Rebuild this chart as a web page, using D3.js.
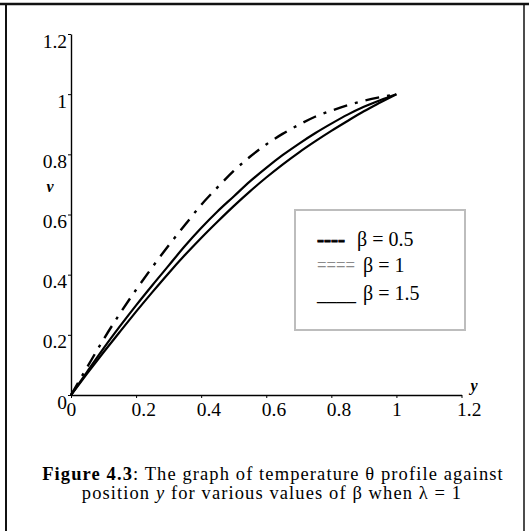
<!DOCTYPE html>
<html><head><meta charset="utf-8">
<script src="https://cdn.jsdelivr.net/npm/d3@7"></script>
<style>
html,body{margin:0;padding:0;background:#fff;}
svg{display:block;font-family:"Liberation Serif","Times New Roman",serif;}
svg text{font-family:"Liberation Serif","Times New Roman",serif !important;fill:#000;}
</style></head>
<body>
<script>
// ---- data ----
const xs = [0,0.05,0.1,0.15,0.2,0.25,0.3,0.35,0.4,0.45,0.5,0.55,0.6,0.65,0.7,0.75,0.8,0.85,0.9,0.95,1];
const beta05 = [0,0.093,0.185,0.27,0.35,0.425,0.497,0.565,0.632,0.69,0.745,0.792,0.833,0.868,0.898,0.925,0.945,0.963,0.978,0.99,1];
const beta1  = [0,0.078,0.155,0.228,0.298,0.365,0.43,0.495,0.555,0.61,0.66,0.71,0.755,0.797,0.835,0.87,0.902,0.932,0.958,0.98,1];
const beta15 = [0,0.072,0.142,0.21,0.277,0.342,0.405,0.465,0.522,0.576,0.628,0.677,0.723,0.766,0.806,0.843,0.878,0.911,0.943,0.972,1];
const xTicks = [0,0.2,0.4,0.6,0.8,1,1.2];
const xTickLabels = ["0","0.2","0.4","0.6","0.8","1","1.2"];
const yTicks = [0,0.2,0.4,0.6,0.8,1,1.2];
const yTickLabels = ["0","0.2","0.4","0.6","0.8","1","1.2"];
const legendMarks = ["----","====","____"];
const legendLabels = ["β = 0.5","β = 1","β = 1.5"];

const W = 529, H = 531;
const FONT = '"Liberation Serif","Times New Roman",serif';
const svg = d3.select("body").append("svg").attr("width", W).attr("height", H);

// frame
svg.append("line").attr("x1",0).attr("x2",W).attr("y1",4).attr("y2",4).attr("stroke","#111").attr("stroke-width",2.5);
svg.append("line").attr("x1",6).attr("x2",6).attr("y1",3).attr("y2",H).attr("stroke","#111").attr("stroke-width",2);
svg.append("line").attr("x1",524).attr("x2",524).attr("y1",3).attr("y2",H).attr("stroke","#111").attr("stroke-width",1.5);

const x = d3.scaleLinear().domain([0,1.2]).range([71,461.5]);
const y = d3.scaleLinear().domain([0,1.2]).range([395,34]);

// axes
const xAxis = d3.axisBottom(x).tickValues(xTicks).tickFormat((d,i)=>xTickLabels[i]).tickSize(3).tickSizeOuter(0);
const gx = svg.append("g").attr("transform",`translate(0,${y(0)})`).call(xAxis)
  .attr("font-family",FONT).attr("font-size",19.5);
gx.select(".domain").attr("stroke","#000").attr("stroke-width",1.4);
gx.selectAll(".tick line").attr("stroke","#000");
gx.selectAll(".tick text").attr("text-anchor","start").attr("x",-5).attr("y",21).attr("dy",null);

const yAxis = d3.axisLeft(y).tickValues(yTicks).tickFormat((d,i)=>yTickLabels[i]).tickSize(3).tickSizeOuter(0);
const gy = svg.append("g").attr("transform",`translate(${x(0)},0)`).call(yAxis)
  .attr("font-family",FONT).attr("font-size",19.5);
gy.select(".domain").attr("stroke","#000").attr("stroke-width",1.4);
gy.selectAll(".tick line").attr("stroke","#000");
gy.selectAll(".tick text").attr("text-anchor","end").attr("x",-4).attr("y",13).attr("dy",null);

// axis titles
svg.append("text").attr("x",50).attr("y",192).attr("text-anchor","middle")
  .style("font-size","16px").style("font-weight","bold").style("font-style","italic").text("v");
svg.append("text").attr("x",474).attr("y",391).attr("text-anchor","middle")
  .style("font-size","16px").style("font-weight","bold").style("font-style","italic").text("y");

// curves
const line = d3.line().x((d,i)=>x(xs[i])).y(d=>y(d)).curve(d3.curveMonotoneX);
svg.append("path").datum(beta15).attr("d",line).attr("fill","none").attr("stroke","#000").attr("stroke-width",2.2);
svg.append("path").datum(beta1).attr("d",line).attr("fill","none").attr("stroke","#000").attr("stroke-width",2.2);
svg.append("path").datum(beta05).attr("d",line).attr("fill","none").attr("stroke","#000").attr("stroke-width",2.4)
  .attr("stroke-dasharray","14,8,3,8");

// legend
svg.append("rect").attr("x",295).attr("y",210).attr("width",170).attr("height",120)
  .attr("fill","#fff").attr("stroke","#bdbdbd").attr("stroke-width",2);
const rowsY = [246,272,300];
const markX = 317, labX = [357,363,363], markLen = [28,38,39];
legendLabels.forEach((lab,i)=>{
  const m = svg.append("text").attr("x",markX).attr("y",rowsY[i]).style("font-size","20px")
    .style("fill", i===1 ? "#8a8a8a" : "#000")
    .attr("textLength",markLen[i]).attr("lengthAdjust","spacingAndGlyphs").text(legendMarks[i]);
  if (i===0) m.style("font-weight","bold").attr("stroke","#000").attr("stroke-width",0.8);
  svg.append("text").attr("x",labX[i]).attr("y",rowsY[i]).style("font-size","20px").text(lab);
});

// caption
const c1 = svg.append("text").attr("x",273).attr("y",480).attr("text-anchor","middle")
  .style("font-size","18.5px").style("letter-spacing","1.1px");
c1.append("tspan").style("font-weight","bold").text("Figure 4.3");
c1.append("tspan").text(": The graph of temperature θ profile against");
const c2 = svg.append("text").attr("x",272).attr("y",499).attr("text-anchor","middle")
  .style("font-size","18.5px").style("letter-spacing","1.1px");
c2.append("tspan").text("position ");
c2.append("tspan").style("font-style","italic").text("y");
c2.append("tspan").text(" for various values of β when λ = 1");
</script>
</body></html>
